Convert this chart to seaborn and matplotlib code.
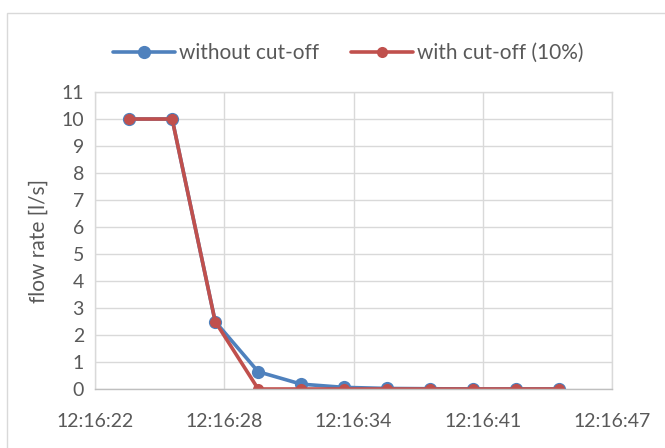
import matplotlib
matplotlib.use('Agg')
import matplotlib.pyplot as plt
import pandas as pd
import seaborn as sns
from matplotlib.patches import Rectangle

# seconds after 12:16:00
seconds = [23.65, 25.73, 27.81, 29.89, 31.97, 34.05, 36.13, 38.21, 40.29, 42.37, 44.45]
without_cutoff = [10, 10, 2.5, 0.64, 0.18, 0.06, 0.02, 0.01, 0, 0, 0]
with_cutoff = [10, 10, 2.5, 0, 0, 0, 0, 0, 0, 0, 0]
series_names = ['without cut-off', 'with cut-off (10%)']
x_ticks = [22, 28.25, 34.5, 40.75, 47]
x_labels = ['12:16:22', '12:16:28', '12:16:34', '12:16:41', '12:16:47']

df = pd.concat([
    pd.DataFrame({'t': seconds, 'flow': without_cutoff, 'series': series_names[0]}),
    pd.DataFrame({'t': seconds, 'flow': with_cutoff, 'series': series_names[1]}),
])

sns.set_style('white')
plt.rcParams['font.family'] = ['Lato', 'DejaVu Sans']
text_color = '#595959'

fig = plt.figure(figsize=(6.65, 4.48), dpi=100)
ax = fig.add_axes([0.1429, 0.1317, 0.9203 - 0.1429, 0.7946 - 0.1317])

palette = {series_names[0]: '#4F81BD', series_names[1]: '#C0504D'}
sizes = {series_names[0]: 9.5, series_names[1]: 8}
for name in series_names:
    sub = df[df['series'] == name]
    sns.lineplot(data=sub, x='t', y='flow', color=palette[name], marker='o',
                 markersize=sizes[name], markeredgewidth=0, linewidth=2.6,
                 label=name, ax=ax)

ax.set_xlim(22, 47)
ax.set_ylim(0, 11)
ax.set_xticks(x_ticks)
ax.set_xticklabels(x_labels)
ax.set_yticks(range(0, 12))
ax.grid(True, color='#D9D9D9', linewidth=1)
ax.set_axisbelow(True)
for side, sp in ax.spines.items():
    sp.set_visible(True)
    sp.set_color('#D9D9D9')
    sp.set_linewidth(1)
ax.spines['bottom'].set_color('#BFBFBF')
ax.tick_params(axis='both', length=0, labelsize=14, colors=text_color, pad=8)
ax.tick_params(axis='x', pad=17)
ax.set_xlabel('')
ax.set_ylabel('flow rate [l/s]', fontsize=15, color=text_color, labelpad=9)

leg = ax.legend(loc='lower center', bbox_to_anchor=(0.49, 1.07), ncol=2, frameon=False,
                fontsize=15, handlelength=3.0, columnspacing=1.5, handletextpad=0.2,
                borderaxespad=0)
for t in leg.get_texts():
    t.set_color(text_color)

fig.patches.append(Rectangle((7 / 665, -0.01), 1.0, 1 - 13 / 448 + 0.01, transform=fig.transFigure,
                             fill=False, edgecolor='#D9D9D9', linewidth=1))

fig.savefig('out.png', dpi=100, facecolor='white')
